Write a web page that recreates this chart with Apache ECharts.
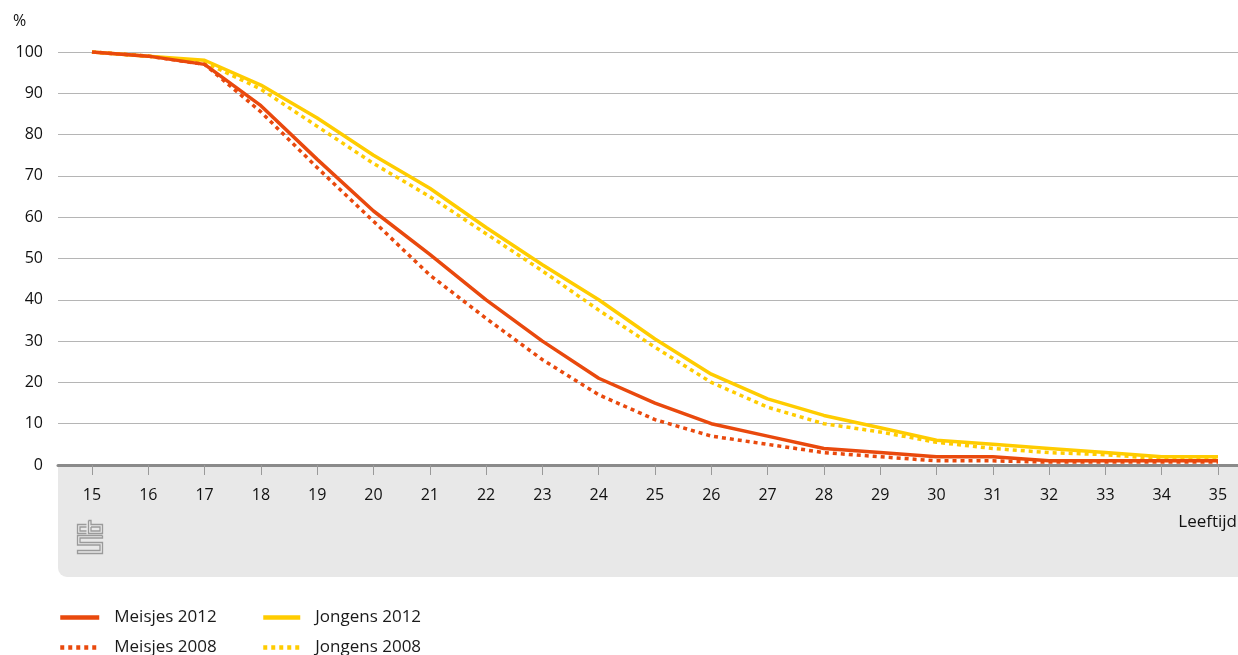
<!DOCTYPE html>
<html>
<head>
<meta charset="utf-8">
<script src="https://cdn.jsdelivr.net/npm/echarts@6/dist/echarts.min.js"></script>
<style>html,body{margin:0;padding:0;background:#fff}#c{width:1238px;height:655px}</style>
</head>
<body>
<div id="c"></div>
<script>
var ages = [15,16,17,18,19,20,21,22,23,24,25,26,27,28,29,30,31,32,33,34,35];
var meisjes2012 = [100,99,97,87,74,61.5,51,40,30,21,15,10,7,4,3,2,2,1,1,1,1];
var meisjes2008 = [100,99,97,85.5,72,59,46,35.5,25.5,17,11,7,5,3,2,1,1,0.7,0.7,0.7,0.7];
var jongens2012 = [100,99,98,92,84,75,67,57.5,48.5,40,30.5,22,16,12,9,6,5,4,3,2,2];
var jongens2008 = [100,99,97.5,91,82,73,65,56,47,37.5,28.5,20,14,10,8,5.5,4,3,2.5,1.5,1.5];
var yTicks = [0,10,20,30,40,50,60,70,80,90,100];

var RED = '#e9490d', YEL = '#ffcc00';
var FONT = 'Open Sans';
function pairs(vals){ return ages.map(function(a,i){return [a, vals[i]];}); }

var chart = echarts.init(document.getElementById('c'), null, {renderer:'canvas'});
var pxPerYear = (1218-92)/20;
var xmin = 15 - (92-58)/pxPerYear;
var xmax = 35 + (1238-1218)/pxPerYear;

function logo(){
  var st = {stroke:'#9a9a9a', lineWidth:1.3, fill:null};
  var els = [];
  function pl(pts){ els.push({type:'polyline', shape:{points:pts}, style:st, z:5}); }
  pl([[86.5,524.5],[77.5,524.5],[77.5,533.5],[86.5,533.5]]);
  pl([[86.5,527],[80,527],[80,531],[86.5,531]]);
  pl([[88.5,520.5],[88.5,533.5],[102.5,533.5],[102.5,524.5],[91,524.5],[91,520.5],[88.5,520.5]]);
  pl([[91,527],[100,527],[100,531],[91,531],[91,527]]);
  pl([[102.5,535.5],[77.5,535.5],[77.5,545],[100,545],[100,550.5],[77.5,550.5],[77.5,553.5],[102.5,553.5],[102.5,542.5],[80,542.5],[80,538],[102.5,538],[102.5,535.5]]);
  return els;
}

var legendText = {fontSize:17, color:'#1a1a1a', fontFamily:FONT, padding:[0,0,0,10], lineHeight:16};
function leg(name, left, top, w){
  return {left:left, top:top, orient:'horizontal', itemWidth:w, itemHeight:14, padding:0,
    itemStyle:{opacity:0}, lineStyle:{width:4.5}, data:[name], textStyle:legendText};
}

var option = {
  animation:false,
  backgroundColor:'#ffffff',
  textStyle:{fontFamily:FONT},
  grid:{left:58, right:0, top:52, bottom:190, containLabel:false},
  xAxis:{
    type:'value', min:xmin, max:xmax,
    axisLine:{show:true, onZero:false, lineStyle:{color:'#8a8a8a', width:3}},
    axisTick:{show:true, customValues:ages, length:10, lineStyle:{color:'#999999', width:1}},
    axisLabel:{show:true, customValues:ages, margin:22, color:'#111', fontSize:16, fontFamily:FONT},
    splitLine:{show:false}
  },
  yAxis:{
    type:'value', min:0, max:100, interval:10,
    axisLine:{show:false}, axisTick:{show:false},
    axisLabel:{margin:15, color:'#111', fontSize:16, fontFamily:FONT, customValues:yTicks},
    splitLine:{show:true, lineStyle:{color:'#b5b5b5', width:1}}
  },
  legend:[
    leg('Meisjes 2012', 58, 609, 39),
    leg('Meisjes 2008', 58, 639, 39),
    leg('Jongens 2012', 261, 609, 37),
    leg('Jongens 2008', 261, 639, 37)
  ],
  graphic:[
    {type:'rect', shape:{x:58, y:465, width:1180, height:112, r:[0,0,0,9]}, style:{fill:'#e8e8e8'}, z:-10, silent:true},
    {type:'text', left:13, top:13, style:{text:'%', fontSize:16, fill:'#111', fontFamily:FONT}},
    {type:'text', right:1, top:514, style:{text:'Leeftijd', fontSize:17, fill:'#111', fontFamily:FONT, align:'right'}},
    {type:'group', children: logo()}
  ],
  series:[
    {name:'Jongens 2008', type:'line', data:pairs(jongens2008), symbol:'none', color:YEL,
     lineStyle:{color:YEL, width:3.5, type:[4,4]}, z:3},
    {name:'Meisjes 2008', type:'line', data:pairs(meisjes2008), symbol:'none', color:RED,
     lineStyle:{color:RED, width:3.5, type:[4,4]}, z:3},
    {name:'Jongens 2012', type:'line', data:pairs(jongens2012), symbol:'none', color:YEL,
     lineStyle:{color:YEL, width:3.5}, z:4},
    {name:'Meisjes 2012', type:'line', data:pairs(meisjes2012), symbol:'none', color:RED,
     lineStyle:{color:RED, width:3.5}, z:4}
  ]
};
chart.setOption(option);
</script>
</body>
</html>
